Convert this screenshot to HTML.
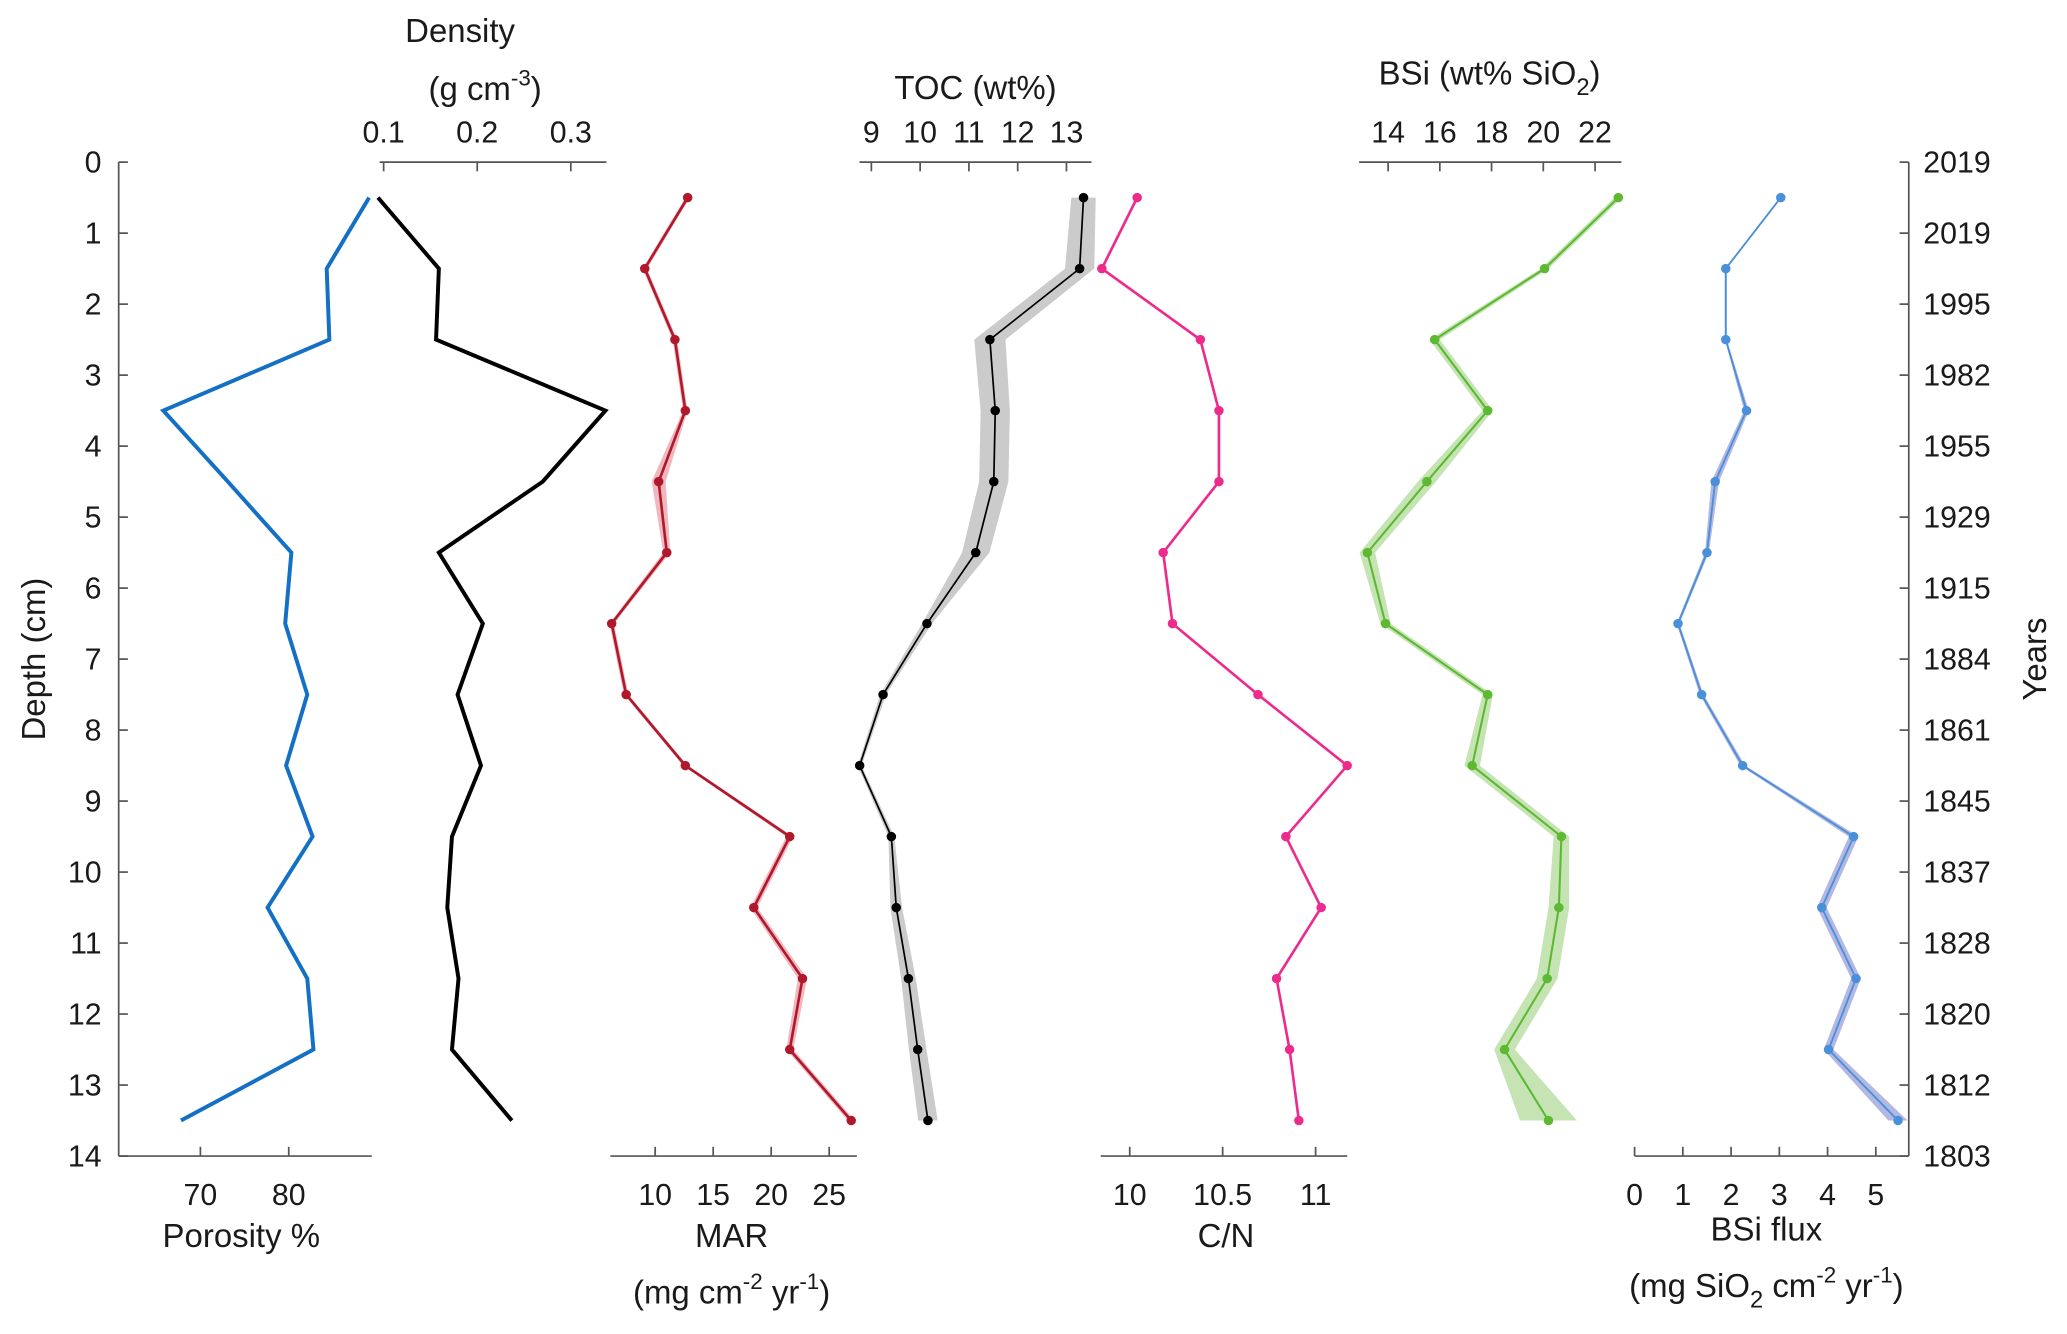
<!DOCTYPE html>
<html><head><meta charset="utf-8"><style>
html,body{margin:0;padding:0;background:#fff;}
svg{display:block;font-family:"Liberation Sans",sans-serif;}
</style></head><body>
<svg id="chart" width="2067" height="1334" viewBox="0 0 1568 1012" xmlns="http://www.w3.org/2000/svg">
<g id="g"></g>
</svg>
<script>
const depths=[0.5,1.5,2.5,3.5,4.5,5.5,6.5,7.5,8.5,9.5,10.5,11.5,12.5,13.5];
const porosity=[89.1,84.3,84.6,65.8,73.1,80.3,79.6,82.1,79.7,82.7,77.6,82.1,82.8,67.8];
const density=[0.094,0.159,0.156,0.337,0.27,0.159,0.206,0.179,0.204,0.173,0.168,0.18,0.173,0.237];
const mar=[12.8,9.1,11.7,12.6,10.3,11.0,6.25,7.5,12.6,21.6,18.5,22.7,21.6,26.9];
const marErr=[0.2,0.2,0.2,0.2,0.6,0.3,0.2,0.2,0.2,0.3,0.3,0.4,0.3,0.3];
const toc=[13.35,13.27,11.43,11.54,11.51,11.14,10.14,9.24,8.76,9.41,9.51,9.76,9.95,10.16];
const tocErr=[0.25,0.3,0.32,0.3,0.3,0.28,0.1,0.06,0.04,0.06,0.12,0.15,0.18,0.2];
const cn=[10.04,9.85,10.38,10.48,10.48,10.18,10.23,10.69,11.17,10.84,11.03,10.79,10.86,10.91];
const bsi=[22.9,20.05,15.8,17.85,15.5,13.2,13.9,17.85,17.25,20.7,20.6,20.15,18.5,20.2];
const bsiErr=[0.15,0.15,0.2,0.2,0.35,0.3,0.2,0.2,0.3,0.3,0.4,0.4,0.4,1.1];
const flux=[3.03,1.89,1.89,2.32,1.67,1.5,0.9,1.39,2.24,4.54,3.88,4.59,4.02,5.46];
const fluxErr=[0.02,0.02,0.02,0.05,0.08,0.04,0.03,0.04,0.05,0.1,0.1,0.1,0.1,0.2];
const depthTicks=[0,1,2,3,4,5,6,7,8,9,10,11,12,13,14];
const yearLabels=["2019","2019","1995","1982","1955","1929","1915","1884","1861","1845","1837","1828","1820","1812","1803"];

const NS="http://www.w3.org/2000/svg";
const G=document.getElementById('g');
const Y0=123,Y1=877;
const FS=23;
function y(d){return Y0+(Y1-Y0)*d/14;}
function el(tag,attrs,parent){const e=document.createElementNS(NS,tag);for(const k in attrs)e.setAttribute(k,attrs[k]);(parent||G).appendChild(e);return e;}
function txt(x,yy,s,opt){const t=el('text',Object.assign({x:x,y:yy,'font-size':FS,fill:'#1a1a1a','text-anchor':'middle'},opt||{}));t.innerHTML=s;return t;}
const AX='#555';

const da=el('g',{});


el('line',{x1:90,y1:Y0,x2:90,y2:Y1,stroke:AX,'stroke-width':1.3},da);
depthTicks.forEach((d,i)=>{
  el('line',{x1:90,y1:y(d),x2:97,y2:y(d),stroke:AX,'stroke-width':1.3},da);
  da.appendChild(txt(77,y(d)+8,String(d),{'text-anchor':'end'}));
});
const dt=txt(0,0,'Depth (cm)',{transform:'translate(34,500) rotate(-90)','font-size':25});



const ya=el('g',{});


el('line',{x1:1448,y1:Y0,x2:1448,y2:Y1,stroke:AX,'stroke-width':1.3},ya);
depthTicks.forEach((d,i)=>{
  el('line',{x1:1441,y1:y(d),x2:1448,y2:y(d),stroke:AX,'stroke-width':1.3},ya);
  ya.appendChild(txt(1459,y(d)+8,yearLabels[i],{'text-anchor':'start'}));
});
const yt=txt(0,0,'Years',{transform:'translate(1552,500) rotate(-90)','font-size':25});



function panel(o){
  const g=el('g',{});
  
  
  const sx=v=>o.px0+(v-o.v0)*(o.px1-o.px0)/(o.v1-o.v0);
  const ay=o.top?Y0:Y1;
  const axis=el('g',{},g);
  
  
  el('line',{x1:o.ax0,y1:ay,x2:o.ax1,y2:ay,stroke:AX,'stroke-width':1.3},axis);
  o.ticks.forEach((tv,i)=>{
    const x=sx(tv);
    el('line',{x1:x,y1:ay,x2:x,y2:o.top?ay+7:ay-7,stroke:AX,'stroke-width':1.3},axis);
    axis.appendChild(txt(x,o.top?ay-15:ay+37,o.tickLabels[i]));
  });
  if(o.err){
    let pts=o.vals.map((v,i)=>sx(v+o.err[i])+','+y(depths[i]));
    let pts2=o.vals.map((v,i)=>sx(v-o.err[i])+','+y(depths[i])).reverse();
    const b=el('polygon',{points:pts.concat(pts2).join(' '),fill:o.band,stroke:'none'},g);
    
    
  }
  const l=el('polyline',{points:o.vals.map((v,i)=>sx(v)+','+y(depths[i])).join(' '),fill:'none',stroke:o.color,'stroke-width':o.lw},g);
  
  
  if(o.markers){o.vals.forEach((v,i)=>{
    const c=el('circle',{cx:sx(v),cy:y(depths[i]),r:3.6,fill:o.color},g);
    
    
  });}
  return g;
}
panel({name:'porosity',vals:porosity,px0:152,px1:219,v0:70,v1:80,ax0:90,ax1:282,top:false,ticks:[70,80],tickLabels:['70','80'],color:'#1470c4',lw:3});
panel({name:'density',vals:density,px0:291,px1:362,v0:0.1,v1:0.2,ax0:288,ax1:460,top:true,ticks:[0.1,0.2,0.3],tickLabels:['0.1','0.2','0.3'],color:'#000',lw:3});
panel({name:'mar',vals:mar,err:marErr,band:'#efb8bf',px0:497,px1:585,v0:10,v1:20,ax0:463,ax1:650,top:false,ticks:[10,15,20,25],tickLabels:['10','15','20','25'],color:'#b0182b',lw:2,markers:true});
panel({name:'toc',vals:toc,err:tocErr,band:'#cbcbcb',px0:661,px1:809,v0:9,v1:13,ax0:652,ax1:828,top:true,ticks:[9,10,11,12,13],tickLabels:['9','10','11','12','13'],color:'#000',lw:1.3,markers:true});
panel({name:'cn',vals:cn,px0:857,px1:998,v0:10,v1:11,ax0:835,ax1:1022,top:false,ticks:[10,10.5,11],tickLabels:['10','10.5','11'],color:'#ec2b8c',lw:2,markers:true});
panel({name:'bsi',vals:bsi,err:bsiErr,band:'#c6e4b3',px0:1053,px1:1210,v0:14,v1:22,ax0:1031,ax1:1230,top:true,ticks:[14,16,18,20,22],tickLabels:['14','16','18','20','22'],color:'#5db934',lw:1.6,markers:true});
panel({name:'bsi-flux',vals:flux,err:fluxErr,band:'#b3b8e2',px0:1240,px1:1423,v0:0,v1:5,ax0:1240,ax1:1448,top:false,ticks:[0,1,2,3,4,5],tickLabels:['0','1','2','3','4','5'],color:'#4a90d8',lw:1.4,markers:true});

function title(x,yy,s,name){const t=txt(x,yy,s,{'font-size':25});}
title(349,32,'Density','density-title');
title(368,76,'(g  cm<tspan font-size="17" dy="-11">-3</tspan><tspan dy="11">)</tspan>','density-units');
title(740,75,'TOC (wt%)','toc-title');
title(1130,64,'BSi (wt% SiO<tspan font-size="18" dy="8">2</tspan><tspan dy="-8">)</tspan>','bsi-title');
title(183,946,'Porosity %','porosity-title');
title(555,946,'MAR','mar-title');
title(555,989,'(mg  cm<tspan font-size="17" dy="-11">-2</tspan><tspan dy="11"> yr</tspan><tspan font-size="17" dy="-11">-1</tspan><tspan dy="11">)</tspan>','mar-units');
title(930,946,'C/N','cn-title');
title(1340,941,'BSi flux','bsi-flux-title');
title(1340,984,'(mg SiO<tspan font-size="18" dy="8">2</tspan><tspan dy="-8">  cm</tspan><tspan font-size="17" dy="-11">-2</tspan><tspan dy="11"> yr</tspan><tspan font-size="17" dy="-11">-1</tspan><tspan dy="11">)</tspan>','bsi-flux-units');
</script>
</body></html>
